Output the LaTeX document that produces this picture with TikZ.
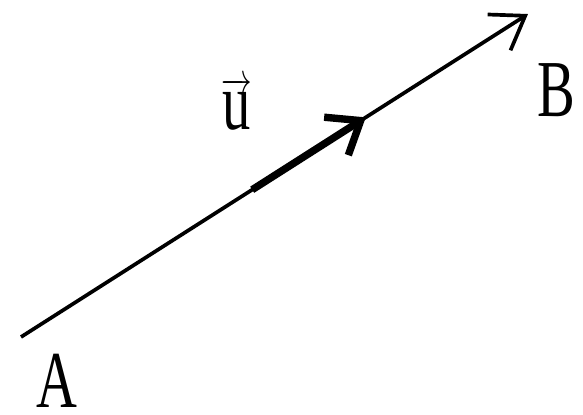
\documentclass[tikz,border=0pt]{standalone}
\usepackage{fontspec}
\setmainfont{Liberation Serif}
\usetikzlibrary{arrows.meta,calc}

\tikzset{
  vecline/.style={line width=2.1pt,-{Straight Barb[length=0.62cm,width=0.85cm]}},
  midarrow/.style={line width=4.2pt,-{Straight Barb[length=0.58cm,width=0.9cm]}},
  lbl/.style={font=\fontsize{46}{46}\selectfont,inner sep=0pt}
}
\newcommand{\narrow}[1]{\scalebox{0.7}[1]{#1}}

\begin{document}
\begin{tikzpicture}[x=0.02cm,y=-0.02cm]
  \useasboundingbox (0,0) rectangle (583,414);
  \coordinate (start) at (21,337);
  \coordinate (end) at (528,14);
  \draw[vecline] (start) -- (end);
  \coordinate (m1) at ($(start)!0.456!(end)$);
  \coordinate (m2) at ($(start)!0.68!(end)$);
  \draw[midarrow] (m1) -- (m2);
  \node[lbl] (A) at (57,381) {\narrow{A}};
  \node[lbl] (B) at (556,90) {\narrow{B}};
  \node[lbl] (u) at (237,104) {\narrow{$\overrightarrow{\mathrm{u}}$}};
\end{tikzpicture}
\end{document}
